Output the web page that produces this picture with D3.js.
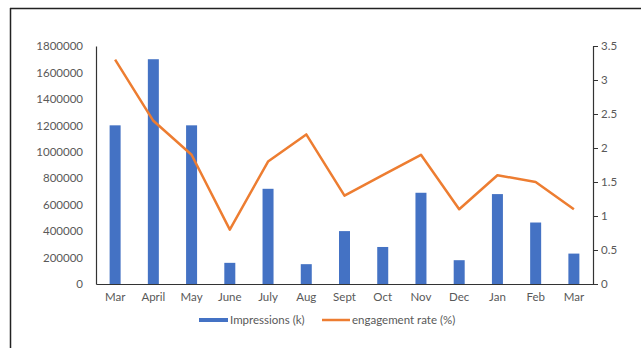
<!DOCTYPE html>
<html><head><meta charset="utf-8">
<script src="https://cdn.jsdelivr.net/npm/d3@7"></script>
<style>
html,body{margin:0;padding:0;background:#fff;}
svg{display:block;font-family:Lato,"Open Sans",sans-serif;}
</style></head>
<body><svg id="c" width="641" height="348"></svg>
<script>
const months = ["Mar","April","May","June","July","Aug","Sept","Oct","Nov","Dec","Jan","Feb","Mar"];
const impressions = [1200000,1700000,1200000,160000,720000,150000,400000,280000,690000,180000,680000,465000,230000];
const engagement = [3.3,2.4,1.9,0.8,1.8,2.2,1.3,1.6,1.9,1.1,1.6,1.5,1.1];
const leftTicks = [0,200000,400000,600000,800000,1000000,1200000,1400000,1600000,1800000];
const rightTicks = [0,0.5,1,1.5,2,2.5,3,3.5];
const seriesNames = ["Impressions (k)","engagement rate (%)"];

const svg = d3.select("#c");
const m = {l:96, r:593, t:46, b:284};
const txt = "#595959";
const fs = "11.5px";

// frame
svg.append("line").attr("x1",10).attr("x2",641).attr("y1",8.5).attr("y2",8.5).attr("stroke","#222").attr("stroke-width",1.5);
svg.append("line").attr("x1",10.5).attr("x2",10.5).attr("y1",8).attr("y2",348).attr("stroke","#222").attr("stroke-width",1.5);

const x = d3.scaleBand().domain(d3.range(months.length)).range([m.l,m.r]).paddingInner(0).paddingOuter(0);
const yL = d3.scaleLinear().domain([0,1800000]).range([m.b,m.t]);
const yR = d3.scaleLinear().domain([0,3.5]).range([m.b,m.t]);
const bw = 11;

// bars
svg.append("g").selectAll("rect").data(impressions).join("rect")
  .attr("x",(d,i)=>x(i)+x.bandwidth()/2-bw/2).attr("width",bw)
  .attr("y",d=>yL(d)).attr("height",d=>m.b-yL(d)).attr("fill","#4472C4");

// line
const line = d3.line().x((d,i)=>x(i)+x.bandwidth()/2).y(d=>yR(d));
svg.append("path").datum(engagement).attr("d",line).attr("fill","none")
  .attr("stroke","#ED7D31").attr("stroke-width",2.5).attr("stroke-linejoin","round");

// left axis
const gl = svg.append("g").attr("transform",`translate(${m.l},0)`)
  .call(d3.axisLeft(yL).tickValues(leftTicks).tickSize(0).tickPadding(13).tickFormat(d3.format("d")));
gl.select(".domain").attr("stroke","#333").attr("stroke-width",1.2);
gl.selectAll("text").attr("fill",txt).style("font-size",fs).style("font-family","Lato,sans-serif");

// right axis
const gr = svg.append("g").attr("transform",`translate(${m.r},0)`)
  .call(d3.axisRight(yR).tickValues(rightTicks).tickSize(5).tickPadding(3).tickSizeOuter(0).tickFormat(d=>d));
gr.select(".domain").attr("stroke","#333").attr("stroke-width",1.2);
gr.selectAll(".tick line").attr("stroke","#333");
gr.selectAll("text").attr("fill",txt).style("font-size",fs).style("font-family","Lato,sans-serif");

// bottom axis
const gb = svg.append("g").attr("transform",`translate(0,${m.b})`)
  .call(d3.axisBottom(x).tickSize(0).tickPadding(9).tickFormat(i=>months[i]));
gb.select(".domain").attr("stroke","#333").attr("stroke-width",1.2);
gb.selectAll("text").attr("fill",txt).style("font-size",fs).style("font-family","Lato,sans-serif");

// legend
const lg = svg.append("g").style("font-size",fs).attr("fill",txt);
lg.append("rect").attr("x",199).attr("y",318).attr("width",29).attr("height",4).attr("fill","#4472C4");
lg.append("text").attr("x",230).attr("y",324).text(seriesNames[0]);
lg.append("line").attr("x1",322).attr("x2",350).attr("y1",320).attr("y2",320).attr("stroke","#ED7D31").attr("stroke-width",2.5);
lg.append("text").attr("x",352).attr("y",324).text(seriesNames[1]);
</script></body></html>
